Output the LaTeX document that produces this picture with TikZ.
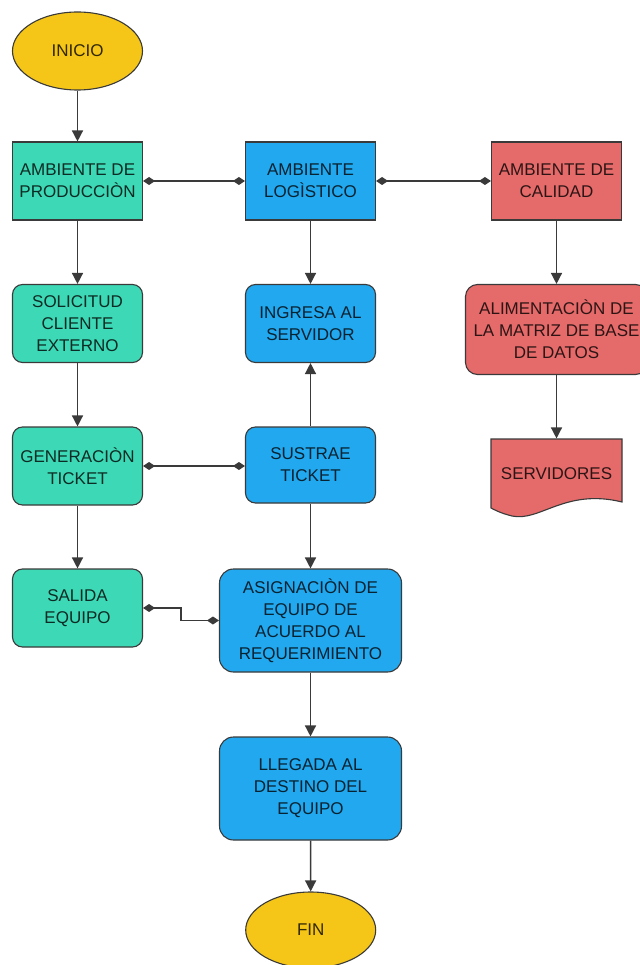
\documentclass[tikz,border=0pt]{standalone}
\usepackage{fontspec}
\setmainfont{Liberation Sans}
\usetikzlibrary{shapes.geometric,arrows.meta,calc}

\definecolor{amarillo}{HTML}{F5C518}
\definecolor{verde}{HTML}{3DD9B6}
\definecolor{azul}{HTML}{22A8EF}
\definecolor{rojo}{HTML}{E56A6A}
\definecolor{borde}{HTML}{3A3A3A}

\tikzset{
  base/.style={draw=borde, line width=1.1pt, align=center,
    font=\fontsize{17}{22}\selectfont, inner sep=0pt},
  caja/.style={base, rectangle, minimum width=130pt, minimum height=78pt},
  redonda/.style={caja, rounded corners=10pt},
  grande/.style={base, rectangle, rounded corners=14pt, minimum width=182pt, minimum height=103pt},
  terminal/.style={base, ellipse, fill=amarillo, text=amarillo!20!black,
    minimum width=130pt, minimum height=78pt},
  prod/.style={fill=verde, text=verde!20!black},
  logi/.style={fill=azul, text=azul!20!black},
  cali/.style={fill=rojo, text=rojo!20!black},
  flecha/.style={draw=borde, line width=1.4pt, -{Triangle[length=11pt,width=11pt]}},
  enlace/.style={draw=borde, line width=1.4pt,
    {Diamond[length=12pt,width=8pt]}-{Diamond[length=12pt,width=8pt]}},
}

\begin{document}
\begin{tikzpicture}[x=1pt, y=-1pt]
\useasboundingbox (0,0) rectangle (639,965);

% column: production
\node[terminal] (inicio) at (77.5,51) {INICIO};
\node[caja, prod] (amprod) at (77.5,181) {AMBIENTE DE\\PRODUCCIÒN};
\node[redonda, prod] (solic) at (77.5,323.5) {SOLICITUD\\CLIENTE\\EXTERNO};
\node[redonda, prod] (gener) at (77.5,466) {GENERACIÒN\\TICKET};
\node[redonda, prod] (salida) at (77.5,608) {SALIDA\\EQUIPO};

% column: logistics
\node[caja, logi] (amlog) at (310.5,181) {AMBIENTE\\LOGÌSTICO};
\node[redonda, logi] (ingresa) at (310.5,323.5) {INGRESA AL\\SERVIDOR};
\node[redonda, logi, minimum height=76pt] (sustrae) at (310.5,465) {SUSTRAE\\TICKET};
\node[grande, logi] (asig) at (310.5,620.5) {ASIGNACIÒN DE\\EQUIPO DE\\ACUERDO AL\\REQUERIMIENTO};
\node[grande, logi] (llegada) at (310.5,788.5) {LLEGADA AL\\DESTINO DEL\\EQUIPO};
\node[terminal, minimum height=76pt] (fin) at (310.7,930) {FIN};

% column: quality
\node[caja, cali] (amcal) at (556.5,181) {AMBIENTE DE\\CALIDAD};
\node[base, cali, rectangle, rounded corners=12pt, minimum width=182pt, minimum height=90pt]
  (alim) at (556.5,329.5) {ALIMENTACIÒN DE\\LA MATRIZ DE BASE\\DE DATOS};

% document shape for the servers
\fill[rojo] (491,439) -- (622,439) -- (622,502)
  .. controls (565,488) and (540,522) .. (512,516)
  .. controls (500,513) and (495,510) .. (491,508) -- cycle;
\draw[borde, line width=1.1pt] (491,439) -- (622,439) -- (622,502)
  .. controls (565,488) and (540,522) .. (512,516)
  .. controls (500,513) and (495,510) .. (491,508) -- cycle;
\node[base, draw=none, text=rojo!20!black, minimum width=131pt, minimum height=70pt]
  (serv) at (556.5,474) {SERVIDORES};

% flow arrows
\draw[flecha] (inicio) -- (amprod);
\draw[flecha] (amprod) -- (solic);
\draw[flecha] (solic) -- (gener);
\draw[flecha] (gener) -- (salida);
\draw[flecha] (amlog) -- (ingresa);
\draw[flecha] (sustrae) -- (ingresa);
\draw[flecha] (sustrae) -- (asig);
\draw[flecha] (asig) -- (llegada);
\draw[flecha] (llegada) -- (fin);
\draw[flecha] (amcal) -- (alim);
\draw[flecha] (alim.south -| serv.north) -- (serv.north);

% associations
\draw[enlace] (amprod.east) -- (amlog.west);
\draw[enlace] (amlog.east) -- (amcal.west);
\draw[enlace] (gener.east) -- (gener.east -| sustrae.west);
\draw[enlace] (salida.east) -| ($(salida.east)!0.5!(asig.west)$) |- (asig.west);
\end{tikzpicture}
\end{document}
